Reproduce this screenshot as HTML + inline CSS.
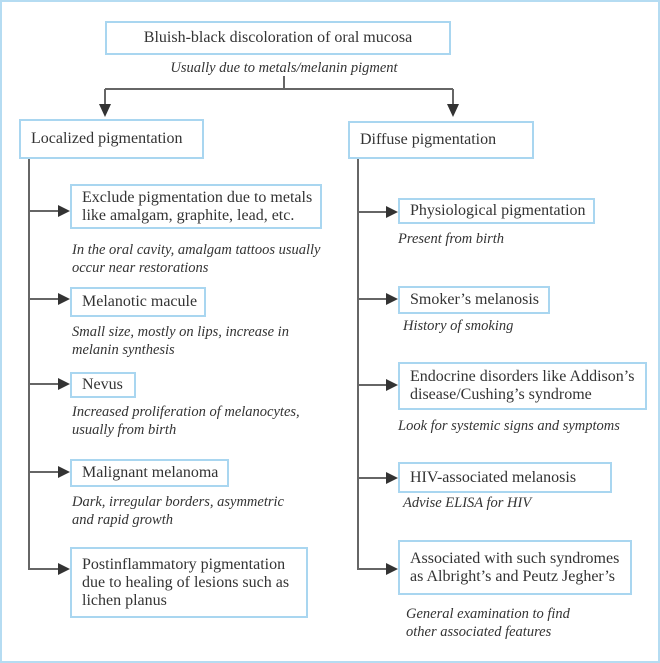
<!DOCTYPE html>
<html><head><style>
body{margin:0;width:660px;height:663px;position:relative;background:#fff;font-family:"Liberation Serif",serif;color:#333;overflow:hidden}
.frame{position:absolute;left:0;top:0;width:656px;height:659px;border:2px solid #b5dcf2}
.b{position:absolute;border:2px solid #a9d6f0;box-sizing:border-box;font-size:16px;line-height:18px;padding:0 10px;display:flex;align-items:center;background:#fff;white-space:nowrap}
.c{position:absolute;font-style:italic;font-size:14.5px;line-height:18px;white-space:nowrap}
svg{position:absolute;left:0;top:0}
</style></head><body>
<div class="frame"></div>
<svg width="660" height="663">
<g stroke="#666" stroke-width="2" fill="none">
<path d="M284 76V89M105 89H453M105 89V106M453 89V106"/>
<path d="M29 158V570M358 158V570"/>
<path d="M29 211H60M29 299H60M29 384H60M29 472H60M29 569H60"/>
<path d="M358 212H388M358 299H388M358 385H388M358 478H388M358 569H388"/>
</g>
<g fill="#333">
<path d="M99 104H111L105 117Z M447 104H459L453 117Z"/>
<path d="M58 205V217L70 211Z M58 293V305L70 299Z M58 378V390L70 384Z M58 466V478L70 472Z M58 563V575L70 569Z"/>
<path d="M386 206V218L398 212Z M386 293V305L398 299Z M386 379V391L398 385Z M386 472V484L398 478Z M386 563V575L398 569Z"/>
</g>
</svg>
<div class="b" style="left:105px;top:21px;width:346px;height:34px;justify-content:center">Bluish-black discoloration of oral mucosa</div>
<div class="c" style="left:0;width:568px;text-align:center;top:59px">Usually due to metals/melanin pigment</div>
<div class="b" style="left:19px;top:119px;width:185px;height:40px">Localized pigmentation</div>
<div class="b" style="left:348px;top:121px;width:186px;height:38px">Diffuse pigmentation</div>

<div class="b" style="left:70px;top:184px;width:252px;height:45px">Exclude pigmentation due to metals<br>like amalgam, graphite, lead, etc.</div>
<div class="c" style="left:72px;top:241px">In the oral cavity, amalgam tattoos usually<br>occur near restorations</div>
<div class="b" style="left:70px;top:287px;width:136px;height:30px">Melanotic macule</div>
<div class="c" style="left:72px;top:323px">Small size, mostly on lips, increase in<br>melanin synthesis</div>
<div class="b" style="left:70px;top:372px;width:66px;height:26px">Nevus</div>
<div class="c" style="left:72px;top:403px">Increased proliferation of melanocytes,<br>usually from birth</div>
<div class="b" style="left:70px;top:459px;width:159px;height:28px">Malignant melanoma</div>
<div class="c" style="left:72px;top:493px">Dark, irregular borders, asymmetric<br>and rapid growth</div>
<div class="b" style="left:70px;top:547px;width:238px;height:71px">Postinflammatory pigmentation<br>due to healing of lesions such as<br>lichen planus</div>

<div class="b" style="left:398px;top:198px;width:197px;height:26px">Physiological pigmentation</div>
<div class="c" style="left:398px;top:230px">Present from birth</div>
<div class="b" style="left:398px;top:286px;width:152px;height:28px">Smoker’s melanosis</div>
<div class="c" style="left:403px;top:317px">History of smoking</div>
<div class="b" style="left:398px;top:362px;width:249px;height:48px">Endocrine disorders like Addison’s<br>disease/Cushing’s syndrome</div>
<div class="c" style="left:398px;top:417px">Look for systemic signs and symptoms</div>
<div class="b" style="left:398px;top:462px;width:214px;height:31px">HIV-associated melanosis</div>
<div class="c" style="left:403px;top:494px">Advise ELISA for HIV</div>
<div class="b" style="left:398px;top:540px;width:234px;height:55px">Associated with such syndromes<br>as Albright’s and Peutz Jegher’s</div>
<div class="c" style="left:406px;top:605px">General examination to find<br>other associated features</div>
</body></html>
